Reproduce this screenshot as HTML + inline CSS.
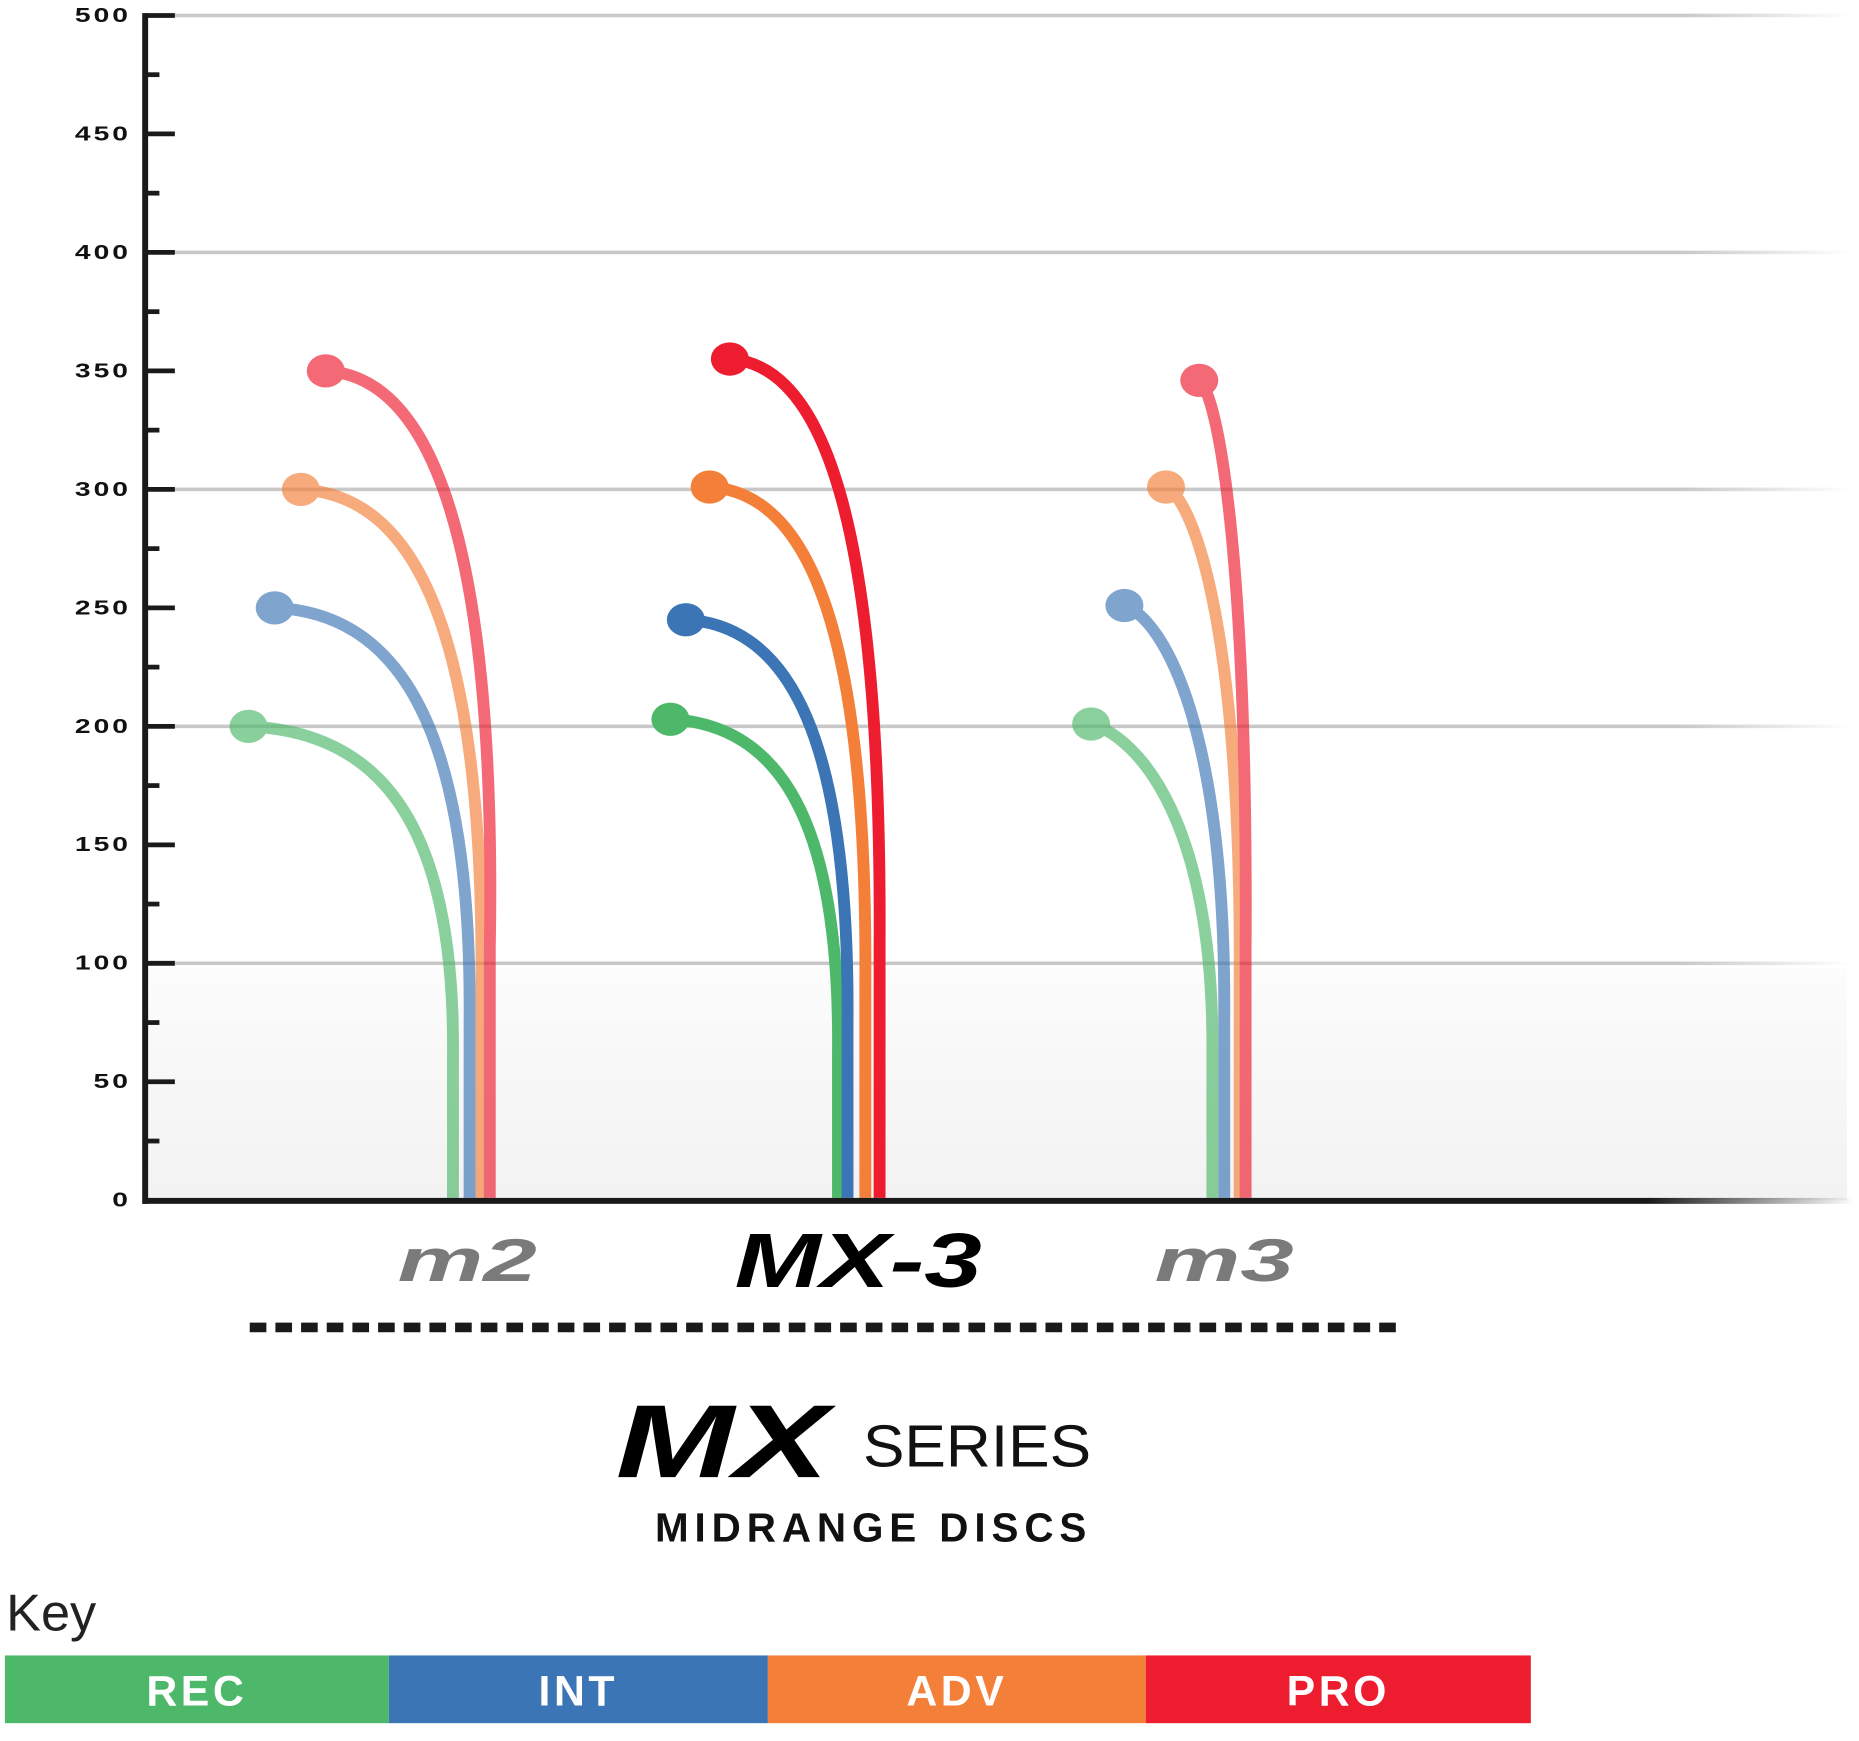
<!DOCTYPE html>
<html><head><meta charset="utf-8"><style>
html,body{margin:0;padding:0;background:#fff;}
svg{display:block;}
text{font-family:"Liberation Sans",sans-serif;}
</style></head><body>
<svg id="chart" width="1859" height="1741" viewBox="0 0 1564 1465" xmlns="http://www.w3.org/2000/svg">
<defs>
<linearGradient id="fadeR" x1="0" x2="1" y1="0" y2="0">
<stop offset="0" stop-color="#c8c8c8"/><stop offset="0.9" stop-color="#c8c8c8"/><stop offset="1" stop-color="#c8c8c8" stop-opacity="0"/>
</linearGradient>
<linearGradient id="fadeAx" x1="0" x2="1" y1="0" y2="0">
<stop offset="0" stop-color="#1a1a1a"/><stop offset="0.88" stop-color="#1a1a1a"/><stop offset="1" stop-color="#1a1a1a" stop-opacity="0"/>
</linearGradient>
<linearGradient id="bgV" x1="0" x2="0" y1="0" y2="1">
<stop offset="0" stop-color="#fcfcfc"/><stop offset="1" stop-color="#f2f2f2"/>
</linearGradient>
</defs>
<rect x="124" y="815" width="1430" height="195" fill="url(#bgV)"/>
<g id="grid"></g>
<g id="curves"></g>
<g id="axis"></g>

<text x="393" y="1078" text-anchor="middle" font-size="60" font-weight="bold" font-style="italic" fill="#7a7a7a" transform="translate(393 1078) scale(1.35 0.85) translate(-393 -1078)">m2</text>
<text x="722" y="1083" text-anchor="middle" font-size="68" font-weight="bold" font-style="italic" fill="#000" transform="translate(722 1083) scale(1.28 0.95) translate(-722 -1083)">MX-3</text>
<text x="1030" y="1078" text-anchor="middle" font-size="60" font-weight="bold" font-style="italic" fill="#7a7a7a" transform="translate(1030 1078) scale(1.35 0.85) translate(-1030 -1078)">m3</text>

<line x1="210" y1="1117" x2="1182" y2="1117" stroke="#1a1a1a" stroke-width="8" stroke-dasharray="14 7.6"/>

<text x="518" y="1243" font-size="92" font-weight="bold" font-style="italic" fill="#000" transform="translate(518 1243) scale(1.3 0.95) translate(-518 -1243)">MX</text>
<text x="726" y="1234" font-size="50" fill="#111" textLength="192" lengthAdjust="spacingAndGlyphs">SERIES</text>
<text x="551" y="1297" font-size="34" font-weight="bold" fill="#111" textLength="363" lengthAdjust="spacing">MIDRANGE DISCS</text>

<text x="5" y="1372" font-size="44" fill="#222">Key</text>
<g id="legend"></g>
</svg>
<script>
const NS = 'http://www.w3.org/2000/svg';
const discs = ['m2', 'MX-3', 'm3'];
const levels = ['REC', 'INT', 'ADV', 'PRO'];
const recDist = [200, 203, 201];
const intDist = [250, 245, 251];
const advDist = [300, 301, 301];
const proDist = [350, 355, 346];
const yTicks = [0, 50, 100, 150, 200, 250, 300, 350, 400, 450, 500];
const gridValues = [100, 200, 300, 400, 500];
const levelColors = ['#4db86a', '#3b75b5', '#f47f38', '#ed1c2e'];

// layout
const X0 = 122, Y0 = 1010, Y500 = 13;
function yScale(v){ return Y0 - (v / 500) * (Y0 - Y500); }
const startLayout = [[209, 231, 253, 274], [564, 577, 597, 614], [918, 946, 981, 1009]];
const endLayout = [[381, 395, 405, 412], [705, 713, 728, 740], [1020, 1030, 1043, 1048]];
function startX(d, l){ return startLayout[d][l]; }
function endX(d, l){ return endLayout[d][l]; }
const series = [recDist, intDist, advDist, proDist];

const grid = document.getElementById('grid');
gridValues.forEach(v => {
  const l = document.createElementNS(NS, 'rect');
  l.setAttribute('x', X0); l.setAttribute('y', yScale(v) - 1.5);
  l.setAttribute('width', 1435); l.setAttribute('height', 3);
  l.setAttribute('fill', 'url(#fadeR)');
  
  
  grid.appendChild(l);
});

const curves = document.getElementById('curves');
discs.forEach((dn, d) => {
  const g = document.createElementNS(NS, 'g');
  
  
  g.setAttribute('opacity', d === 1 ? 1 : 0.65);
  levels.forEach((lv, l) => {
    const x0 = startX(d, l), y0 = yScale(series[l][d]);
    const xe = endX(d, l), ye = Y0 - 2;
    const ym = ye - (ye - y0) * 0.3;
    const bulge = (d === 0 && l === 3) ? 6 : 2;
    const flat = d === 2 ? 0.4 : 0.65;
    const p = document.createElementNS(NS, 'path');
    const c1x = x0 + (xe - x0) * flat, c1y = y0 + (d === 2 ? 12 : 5);
    const c2x = xe + bulge, c2y = y0 + (ym - y0) * 0.3;
    p.setAttribute('d', `M${x0},${y0} C${c1x},${c1y} ${c2x},${c2y} ${xe},${ym} L${xe},${ye}`);
    p.setAttribute('fill', 'none');
    p.setAttribute('stroke', levelColors[l]);
    p.setAttribute('stroke-width', 10);
    
    
    g.appendChild(p);
    const c = document.createElementNS(NS, 'ellipse');
    c.setAttribute('cx', x0); c.setAttribute('cy', y0);
    c.setAttribute('rx', 16); c.setAttribute('ry', 14);
    c.setAttribute('fill', levelColors[l]);
    
    
    g.appendChild(c);
  });
  curves.appendChild(g);
});

const axis = document.getElementById('axis');
const yl = document.createElementNS(NS, 'line');
yl.setAttribute('x1', X0); yl.setAttribute('x2', X0);
yl.setAttribute('y1', Y500 - 2); yl.setAttribute('y2', Y0 + 3);
yl.setAttribute('stroke', '#1a1a1a'); yl.setAttribute('stroke-width', 5);


axis.appendChild(yl);
const xl = document.createElementNS(NS, 'rect');
xl.setAttribute('x', X0 - 2); xl.setAttribute('y', Y0 - 2);
xl.setAttribute('width', 1440); xl.setAttribute('height', 5);
xl.setAttribute('fill', 'url(#fadeAx)');


axis.appendChild(xl);
for (let v = 25; v < 500; v += 50) {
  const t = document.createElementNS(NS, 'line');
  t.setAttribute('x1', X0); t.setAttribute('x2', X0 + 12);
  t.setAttribute('y1', yScale(v)); t.setAttribute('y2', yScale(v));
  t.setAttribute('stroke', '#1a1a1a'); t.setAttribute('stroke-width', 4);
  
  
  axis.appendChild(t);
}
yTicks.forEach(v => {
  if (v > 0) {
    const t = document.createElementNS(NS, 'line');
    t.setAttribute('x1', X0); t.setAttribute('x2', X0 + 25);
    t.setAttribute('y1', yScale(v)); t.setAttribute('y2', yScale(v));
    t.setAttribute('stroke', '#1a1a1a'); t.setAttribute('stroke-width', 4);
    
    
    axis.appendChild(t);
  }
  const tx = document.createElementNS(NS, 'text');
  tx.setAttribute('x', 110); tx.setAttribute('y', yScale(v) + 6);
  tx.setAttribute('text-anchor', 'end');
  tx.setAttribute('font-size', 19); tx.setAttribute('font-weight', 'bold');
  tx.setAttribute('letter-spacing', 2);
  tx.setAttribute('fill', '#111');
  tx.setAttribute('transform', `translate(110 ${yScale(v)}) scale(1.25 0.9) translate(-110 ${-yScale(v)})`);
  
  
  tx.textContent = v;
  axis.appendChild(tx);
});

const legend = document.getElementById('legend');
const legX = [4, 327, 646, 964, 1288];
levels.forEach((lv, l) => {
  const r = document.createElementNS(NS, 'rect');
  r.setAttribute('x', legX[l]); r.setAttribute('y', 1393);
  r.setAttribute('width', legX[l + 1] - legX[l]); r.setAttribute('height', 57);
  r.setAttribute('fill', levelColors[l]);
  
  
  legend.appendChild(r);
  const t = document.createElementNS(NS, 'text');
  t.setAttribute('x', (legX[l] + legX[l + 1]) / 2); t.setAttribute('y', 1435);
  t.setAttribute('text-anchor', 'middle');
  t.setAttribute('font-size', 36); t.setAttribute('font-weight', 'bold');
  t.setAttribute('letter-spacing', 3);
  t.setAttribute('fill', '#fff');
  
  
  t.textContent = lv;
  legend.appendChild(t);
});
</script>
</body></html>
